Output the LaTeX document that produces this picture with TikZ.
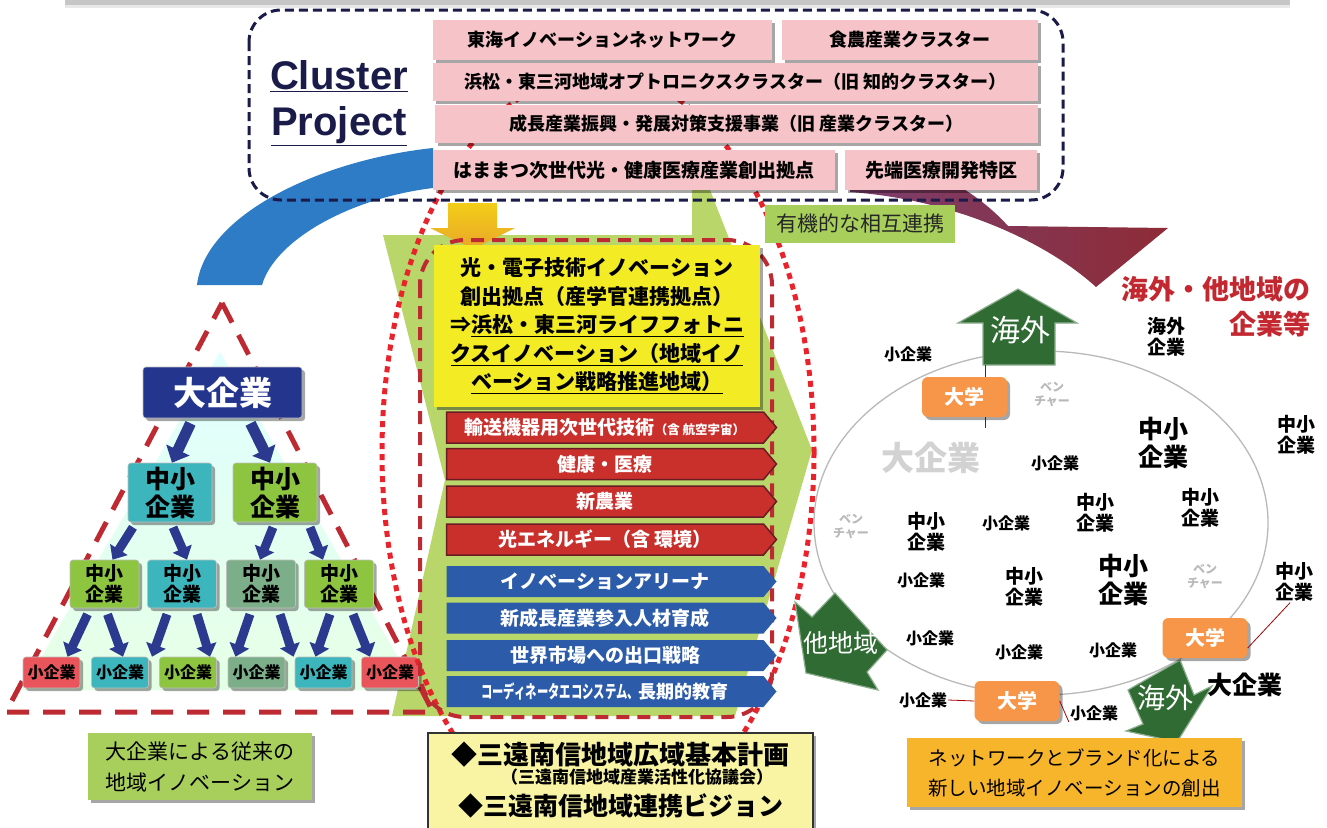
\documentclass[tikz,border=0pt]{standalone}
\usepackage{fontspec}
\setmainfont{Noto Sans CJK JP}
\newfontfamily\lat{Liberation Sans}
\usetikzlibrary{shapes.symbols,shadows,arrows.meta}
\definecolor{navyline}{HTML}{1B1B4A}
\definecolor{pinkfill}{HTML}{F6C3C8}
\definecolor{arcblue}{HTML}{2E7BC6}
\definecolor{plumA}{HTML}{7B3F6E}
\definecolor{plumB}{HTML}{8E2B36}
\definecolor{chevgreen}{HTML}{B8D66A}
\definecolor{goldarr}{HTML}{E9A62A}
\definecolor{dotred}{HTML}{E8232B}
\definecolor{dashred}{HTML}{BE2A31}
\definecolor{brightyel}{HTML}{F3EB24}
\definecolor{barred}{HTML}{C9302C}
\definecolor{bardark}{HTML}{6A1C24}
\definecolor{barblue}{HTML}{2B5BA9}
\definecolor{paleyel}{HTML}{F8F4A4}
\definecolor{labgreen}{HTML}{A8CF5C}
\definecolor{bignavy}{HTML}{24358E}
\definecolor{tealbox}{HTML}{3DB5BC}
\definecolor{limebox}{HTML}{8DC440}
\definecolor{sagebox}{HTML}{7DAE8A}
\definecolor{redbox}{HTML}{E9555A}
\definecolor{pyrblue}{HTML}{2B3A8F}
\definecolor{leafgreen}{HTML}{2F6B32}
\definecolor{uniorange}{HTML}{F79548}
\definecolor{goldbox}{HTML}{F7B52B}
\definecolor{redtext}{HTML}{C3272F}
\newcommand\fz[2]{\fontsize{#1}{#2}\selectfont}
\tikzset{
  softshadow/.style={drop shadow={shadow xshift=3pt,shadow yshift=-3pt,fill=black,opacity=.35}},
  pinkbox/.style={fill=pinkfill,softshadow,minimum height=40,inner sep=0,font=\bfseries\fz{18}{20}},
  barbase/.style={signal,signal to=east,signal pointer angle=100,minimum width=330,minimum height=31,inner sep=0,text=white,font=\bfseries\fz{19}{20}},
  redbar/.style={barbase,fill=barred,draw=bardark,line width=1.5},
  bluebar/.style={barbase,fill=barblue},
  pyrbox/.style={rounded corners=3,draw=white!75!black,line width=.6,align=center,inner sep=0,softshadow},
  midbox/.style={pyrbox,minimum width=84,minimum height=59,font=\bfseries\fz{25}{28}},
  lowbox/.style={pyrbox,minimum width=69,minimum height=48,font=\bfseries\fz{19}{21}},
  smallbox/.style={pyrbox,minimum width=57,minimum height=31,font=\bfseries\fz{16}{18}},
  pyarr/.style={draw=pyrblue,line width=11,-{Triangle[width=25pt,length=14pt]}},
  pyarrs/.style={draw=pyrblue,line width=9,-{Triangle[width=20pt,length=12pt]}},
  tridash/.style={draw=dashred,line width=5,dash pattern=on 22pt off 14pt},
  rectdash/.style={draw=dashred,line width=4,dash pattern=on 13pt off 8pt},
  navydash/.style={draw=navyline,line width=3,dash pattern=on 9pt off 5pt},
  dotline/.style={draw=dotred,line width=5,dash pattern=on 6pt off 5pt},
  bizs/.style={inner sep=1,font=\bfseries\fz{16}{18}},
  bizm/.style={inner sep=1,align=center,font=\bfseries\fz{19}{21}},
  bizb/.style={inner sep=1,align=center,font=\bfseries\fz{25}{28}},
  vent/.style={inner sep=1,align=center,text=gray!55,font=\bfseries\fz{12}{14}},
  leaf/.style={fill=leafgreen,draw=leafgreen!55!white,line width=1.2},
  leaftext/.style={text=white,inner sep=0},
  unibox/.style={fill=uniorange,rounded corners=6,minimum width=85,minimum height=40,text=white,font=\bfseries\fz{20}{22},softshadow},
  uniline/.style={draw=red!65!black,line width=.8}
}
\begin{document}
\begin{tikzpicture}[x=1pt,y=-1pt]
\clip (0,0) rectangle (1327,827);
\fill[white] (0,0) rectangle (1327,827);
% top bar
\fill[gray!45] (65,-5) rectangle (1290,5);
\fill[gray!18] (65,5) rectangle (1290,8);
% bands behind the cluster box
\fill[arcblue] (433,148) .. controls (320,160) and (205,215) .. (197,285) -- (262,285) .. controls (275,240) and (350,198) .. (433,188) -- cycle;
\shade[left color=plumA,right color=plumB] (850,150) .. controls (930,160) and (980,195) .. (1008,226) -- (1168,228) -- (1096,287) .. controls (1050,245) and (960,200) .. (850,192) -- cycle;
% green chevron
\fill[chevgreen] (383,235) -- (692,235) -- (692,190) -- (710,190) -- (812,450) -- (735,716) -- (392,716) -- (445,480) -- cycle;

% pyramid
\shade[top color=cyan!12,bottom color=green!10] (220,352) -- (417,690) -- (22,690) -- cycle;
\draw[tridash] (222,303) -- (433,712) -- (6,712) -- cycle;
\node[pyrbox,fill=bignavy,text=white,minimum width=159,minimum height=51,font=\bfseries\fz{33}{36}] (big) at (222.5,392.5) {大企業};
\node[midbox,fill=tealbox] (mid1) at (170,492.5) {中小\\企業};
\node[midbox,fill=limebox] (mid2) at (275,492.5) {中小\\企業};
\node[lowbox,fill=limebox] (low1) at (104.5,584) {中小\\企業};
\node[lowbox,fill=tealbox] (low2) at (182,584) {中小\\企業};
\node[lowbox,fill=sagebox] (low3) at (261,584) {中小\\企業};
\node[lowbox,fill=limebox] (low4) at (339,584) {中小\\企業};
\node[smallbox,fill=redbox] (sm1) at (51.5,672.5) {小企業};
\node[smallbox,fill=tealbox] (sm2) at (120,672.5) {小企業};
\node[smallbox,fill=limebox] (sm3) at (188,672.5) {小企業};
\node[smallbox,fill=sagebox] (sm4) at (256.5,672.5) {小企業};
\node[smallbox,fill=tealbox] (sm5) at (323.5,672.5) {小企業};
\node[smallbox,fill=redbox] (sm6) at (390,672.5) {小企業};
\draw[pyarr] ([xshift=-32pt,yshift=-5pt]big.south) -- ([xshift=2pt]mid1.north);
\draw[pyarr] ([xshift=28pt,yshift=-5pt]big.south) -- ([xshift=-5pt]mid2.north);
\draw[pyarrs] ([xshift=-37pt,yshift=-5pt]mid1.south) -- ([xshift=8pt]low1.north);
\draw[pyarrs] ([xshift=3pt,yshift=-5pt]mid1.south) -- ([xshift=5pt]low2.north);
\draw[pyarrs] ([xshift=-2pt,yshift=-5pt]mid2.south) -- ([xshift=-1pt]low3.north);
\draw[pyarrs] ([xshift=35pt,yshift=-5pt]mid2.south) -- ([xshift=-16pt]low4.north);
\draw[pyarrs] ([xshift=-17pt,yshift=-6pt]low1.south) -- ([xshift=16pt]sm1.north);
\draw[pyarrs] ([xshift=3pt,yshift=-6pt]low1.south) -- ([xshift=3pt]sm2.north);
\draw[pyarrs] ([xshift=-15pt,yshift=-6pt]low2.south) -- ([xshift=32pt]sm2.north);
\draw[pyarrs] ([xshift=15pt,yshift=-6pt]low2.south) -- ([xshift=22pt]sm3.north);
\draw[pyarrs] ([xshift=-11pt,yshift=-6pt]low3.south) -- ([xshift=-21pt]sm4.north);
\draw[pyarrs] ([xshift=19pt,yshift=-6pt]low3.south) -- ([xshift=-30pt]sm5.north);
\draw[pyarrs] ([xshift=-9pt,yshift=-6pt]low4.south) -- ([xshift=-8pt]sm5.north);
\draw[pyarrs] ([xshift=14pt,yshift=-6pt]low4.south) -- ([xshift=-20pt]sm6.north);
\node[fill=labgreen,minimum width=224,minimum height=67,align=center,font=\fz{21}{31},softshadow] (oldway) at (200,766.5) {大企業による従来の\\地域イノベーション};

% red dotted outline
\draw[dotline] (598,452) ellipse [x radius=216,y radius=380];

% cluster projects
\draw[navydash,rounded corners=32] (249,10) rectangle (1063,200);
\node[font=\lat\bfseries\fz{40}{46},text=navyline,align=center] (cluster) at (339,103) {\underline{Cluster}\\\underline{Project}};
\node[pinkbox,minimum width=339] (tokai) at (602.5,40) {東海イノベーションネットワーク};
\node[pinkbox,minimum width=256] (food) at (910,40) {食農産業クラスター};
\node[pinkbox,minimum width=605,minimum height=38] (opto) at (735.5,82) {浜松・東三河地域オプトロニクスクラスター（旧 知的クラスター）};
\node[pinkbox,minimum width=603,minimum height=38] (growth) at (736.5,124) {成長産業振興・発展対策支援事業（旧 産業クラスター）};
\node[pinkbox,minimum width=402,font=\bfseries\fz{19}{20}] (photon) at (634,170) {はままつ次世代光・健康医療産業創出拠点};
\node[pinkbox,minimum width=192,font=\bfseries\fz{19}{20}] (medical) at (941,170) {先端医療開発特区};

% centre column
\shade[top color=goldarr!55!yellow,bottom color=goldarr] (448,203) -- (497,203) -- (497,228) -- (515,228) -- (473,249) -- (430,228) -- (448,228) -- cycle;
\draw[rectdash,rounded corners=45] (420,240) rectangle (772,717);
\node[fill=brightyel,minimum width=326,minimum height=162,align=center,inner sep=0,font=\bfseries\fz{21}{28.5},softshadow] (hub) at (597,326)
  {光・電子技術イノベーション\\創出拠点（産学官連携拠点）\\⇒\underline{浜松・東三河ライフフォトニ}\\\underline{クスイノベーション（地域イノ}\\\underline{ベーション戦略推進地域）}};
\node[redbar] (bar1) at (605,427.5) {輸送機器用次世代技術{\fz{12.5}{14}（含 航空宇宙）}};
\node[redbar] (bar2) at (605,464) {健康・医療};
\node[redbar] (bar3) at (605,501.5) {新農業};
\node[redbar] (bar4) at (605,539.5) {光エネルギー（含 環境）};
\node[bluebar] (bar5) at (605,581.5) {イノベーションアリーナ};
\node[bluebar] (bar6) at (605,618) {新成長産業参入人材育成};
\node[bluebar] (bar7) at (605,655.5) {世界市場への出口戦略};
\node[bluebar,font=\bfseries\fz{18}{20}] (bar8) at (605,691.5) {\scalebox{.63}[1]{コーディネータエコシステム、}長期的教育};
\node[fill=paleyel,draw=black!80,line width=1.5,minimum width=385,minimum height=110,softshadow] (plan) at (620.5,788) {};
\node[font=\bfseries\fz{26}{28}] (plan1) at (620,755) {◆三遠南信地域広域基本計画};
\node[font=\bfseries\fz{17}{19}] (plan2) at (637,777) {（三遠南信地域産業活性化協議会）};
\node[font=\bfseries\fz{25}{27}] (plan3) at (621,806) {◆三遠南信地域連携ビジョン};
\node[fill=labgreen,minimum width=190,minimum height=38,text=black!85,font=\fz{21}{22}] (organic) at (860,224) {有機的な相互連携};

% regional network
\draw[gray!55,line width=1.3] (1041,523) ellipse [x radius=227,y radius=172];
\fill[leaf] (983,365) -- (983,323) -- (958,323) -- (1018,289) -- (1077,323) -- (1055,323) -- (1055,365) -- cycle;
\fill[leaf] (835,593) -- (887,650) -- (867,672) -- (878,690) -- (806,673) -- (795,602) -- (812,617) -- cycle;
\fill[leaf] (1128,690) -- (1143,724) -- (1126,731) -- (1177,742) -- (1212,686) -- (1194,695) -- (1180,660) -- cycle;
\node[leaftext,font=\fz{30}{32}] (upabroad) at (1020,330) {海外};
\node[leaftext,font=\fz{25}{27}] (otherreg) at (841,643) {他地域};
\node[leaftext,font=\fz{28}{30}] (downabroad) at (1165,698) {海外};
\coordinate (abroadfoot) at (985,365);
\coordinate (uni1tail) at (985,428);
\draw[uniline] (abroadfoot) -- (uni1tail);
\node[unibox] (uni1) at (964.5,397) {大学};
\node[unibox] (uni2) at (1205,638) {大学};
\node[unibox] (uni3) at (1017,701) {大学};
\node[bizs] (rs1) at (908,354) {小企業};
\node[bizm] (ovs) at (1166,337) {海外\\企業};
\node[inner sep=1,text=gray!35,font=\bfseries\fz{33}{36}] (bigco) at (931,458) {大企業};
\node[vent] (v1) at (1052,395) {ベン\\チャー};
\node[bizs] (rs2) at (1055,463) {小企業};
\node[bizb] (rb1) at (1163,443) {中小\\企業};
\node[bizm] (rm1) at (1296,435) {中小\\企業};
\node[bizm] (rm2) at (1095,513) {中小\\企業};
\node[bizm] (rm3) at (1200,508) {中小\\企業};
\node[vent] (v2) at (851,527) {ベン\\チャー};
\node[bizm] (rm4) at (926,532) {中小\\企業};
\node[bizs] (rs3) at (1006,523) {小企業};
\node[bizs] (rs4) at (921,580) {小企業};
\node[bizm] (rm5) at (1024,587) {中小\\企業};
\node[bizb] (rb2) at (1123,580) {中小\\企業};
\node[vent] (v3) at (1205,577) {ベン\\チャー};
\node[bizm] (rm6) at (1294,582) {中小\\企業};
\node[bizs] (rs5) at (930,638) {小企業};
\node[bizs] (rs6) at (1019,652) {小企業};
\node[bizs] (rs7) at (1113,650) {小企業};
\node[bizs] (rs8) at (923,700) {小企業};
\node[bizs] (rs9) at (1094,713) {小企業};
\node[inner sep=1,font=\bfseries\fz{25}{27}] (bigco2) at (1245,685) {大企業};
\draw[uniline] ([yshift=-10pt]uni2.east) -- ([xshift=-4pt]rm6.south);
\draw[uniline] (rs8.east) -- (uni3.west);
\draw[uniline] (uni3.east) -- (rs9.south west);
\node[text=redtext,align=right,anchor=east,font=\bfseries\fz{27}{35}] (others) at (1314,307) {海外・他地域の\\企業等};
\node[fill=goldbox,minimum width=335,minimum height=69,align=center,font=\fz{19.5}{30},softshadow] (newway) at (1074.5,772.5) {ネットワークとブランド化による\\新しい地域イノベーションの創出};
\end{tikzpicture}
\end{document}
